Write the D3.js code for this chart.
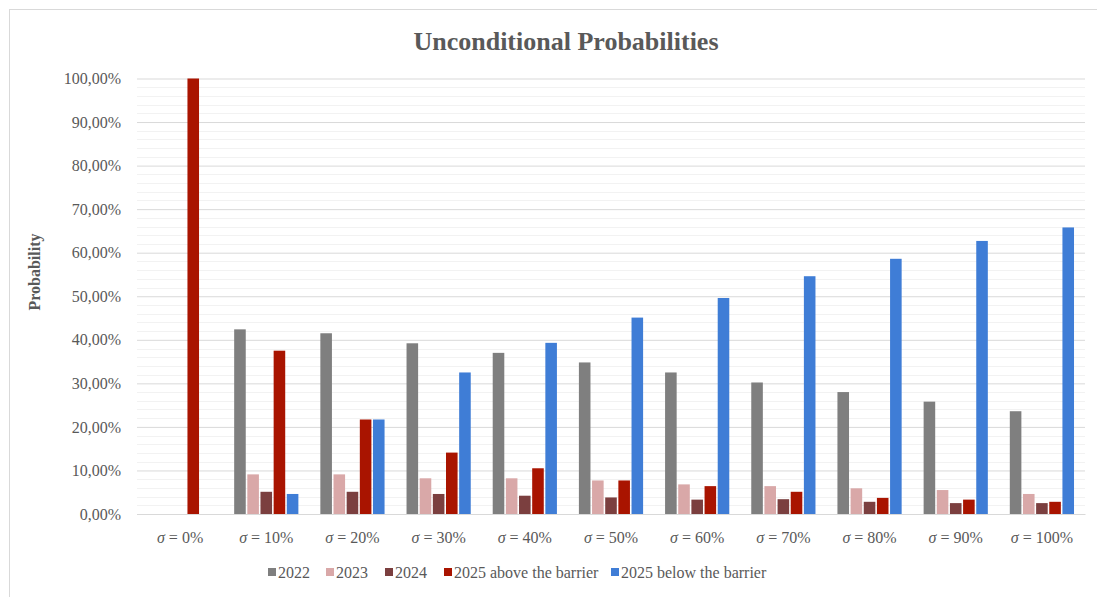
<!DOCTYPE html>
<html lang="en">
<head>
    <meta charset="UTF-8">
    <title>Unconditional Probabilities</title>
    <style>
        body{ margin:0; background:#fff; }
    </style>
    <script src="https://cdn.jsdelivr.net/npm/d3@7"></script>
</head>
<body>
<div id="chart"></div>
<script>
    // categories and series
    var categories = ["0%","10%","20%","30%","40%","50%","60%","70%","80%","90%","100%"];
    var seriesNames = ["2022","2023","2024","2025 above the barrier","2025 below the barrier"];
    var colors = ["#7f7f7f","#d9a8a8","#7b3f3f","#a91400","#3f7dd6"];

    var s2022  = [0, 42.4, 41.5, 39.2, 37.0, 34.8, 32.5, 30.2, 28.0, 25.8, 23.6];
    var s2023  = [0, 9.1, 9.1, 8.2, 8.2, 7.7, 6.8, 6.4, 5.9, 5.5, 4.6];
    var s2024  = [0, 5.1, 5.1, 4.6, 4.2, 3.8, 3.3, 3.4, 2.8, 2.5, 2.5];
    var sAbove = [100, 37.5, 21.7, 14.1, 10.5, 7.7, 6.4, 5.1, 3.7, 3.3, 2.8];
    var sBelow = [0, 4.6, 21.7, 32.5, 39.3, 45.1, 49.6, 54.6, 58.6, 62.7, 65.8];
    var series = [s2022, s2023, s2024, sAbove, sBelow];

    var yTicks = [0,10,20,30,40,50,60,70,80,90,100];

    var FONT = "'Liberation Serif','Times New Roman','DejaVu Serif',Times,serif";
    var TEXT = "#595959";

    var width = 1097, height = 597;
    var plot = {left:137, right:1085, top:78.5, bottom:514};

    var svg = d3.select("#chart").append("svg")
        .attr("width",width)
        .attr("height",height)
        .style("font-family",FONT);

    // chart frame
    svg.append("rect")
        .attr("x",9.5).attr("y",9.5)
        .attr("width",1090).attr("height",590)
        .attr("fill","none")
        .attr("stroke","#d9d9d9");

    var x0 = d3.scaleBand()
        .domain(categories)
        .range([plot.left, plot.right]);
    var x1 = d3.scaleBand()
        .domain(d3.range(series.length))
        .range([0, x0.bandwidth()*0.745])
        .paddingInner(0.12);
    var groupOffset = (x0.bandwidth() - x1.range()[1]) / 2;

    var y = d3.scaleLinear()
        .domain([0,100])
        .range([plot.bottom, plot.top]);

    // minor gridlines (every 2%)
    svg.append("g")
        .selectAll("line")
        .data(d3.range(2,100,2).filter(function(d){ return d % 10 !== 0; }))
        .enter().append("line")
        .attr("x1",plot.left).attr("x2",plot.right)
        .attr("y1",function(d){ return Math.round(y(d))+0.5; })
        .attr("y2",function(d){ return Math.round(y(d))+0.5; })
        .attr("stroke","#f2f2f2");

    // y axis with major gridlines
    var yAxis = d3.axisLeft(y)
        .tickValues(yTicks)
        .tickSize(-(plot.right-plot.left))
        .tickPadding(16)
        .tickFormat(function(d){ return d.toFixed(2).replace(".",",") + "%"; });
    var gy = svg.append("g")
        .attr("transform","translate(" + plot.left + ",0)")
        .call(yAxis)
        .attr("font-family",FONT)
        .attr("font-size",16);
    gy.select(".domain").remove();
    gy.selectAll(".tick line").attr("stroke","#d9d9d9");
    gy.selectAll(".tick text").attr("fill",TEXT).style("font-family",FONT);

    // bars
    var groups = svg.append("g")
        .selectAll("g")
        .data(categories)
        .enter().append("g")
        .attr("transform",function(d){ return "translate(" + (x0(d)+groupOffset) + ",0)"; });

    groups.selectAll("rect")
        .data(function(d,i){ return series.map(function(s,k){ return {k:k, v:s[i]}; }); })
        .enter().append("rect")
        .attr("x",function(d){ return x1(d.k); })
        .attr("y",function(d){ return y(d.v); })
        .attr("width",x1.bandwidth())
        .attr("height",function(d){ return y(0) - y(d.v); })
        .attr("fill",function(d){ return colors[d.k]; });

    // x axis
    var xAxis = d3.axisBottom(x0).tickSize(0).tickFormat(function(){ return ""; });
    var gx = svg.append("g")
        .attr("transform","translate(0," + plot.bottom + ")")
        .call(xAxis)
        .attr("font-family",FONT)
        .attr("font-size",16);
    gx.select(".domain").attr("stroke","#d9d9d9");
    gx.selectAll(".tick text").remove();
    gx.selectAll(".tick").append("text")
        .attr("y",29)
        .attr("text-anchor","middle")
        .attr("fill",TEXT)
        .style("font-family",FONT)
        .style("font-size","16px")
        .each(function(d){
            var t = d3.select(this);
            t.append("tspan").attr("font-style","italic").text("σ");
            t.append("tspan").text(" = " + d);
        });

    // title
    svg.append("text")
        .attr("x",566)
        .attr("y",50)
        .attr("text-anchor","middle")
        .attr("fill",TEXT)
        .style("font-family",FONT)
        .style("font-size","26px")
        .style("font-weight","bold")
        .text("Unconditional Probabilities");

    // y axis title
    svg.append("text")
        .attr("transform","translate(40,272) rotate(-90)")
        .attr("text-anchor","middle")
        .attr("fill",TEXT)
        .style("font-family",FONT)
        .style("font-size","16px")
        .style("font-weight","bold")
        .text("Probability");

    // legend
    var legendX = [268, 326, 385, 444, 611];
    var legend = svg.append("g")
        .selectAll("g")
        .data(seriesNames)
        .enter().append("g")
        .attr("transform",function(d,i){ return "translate(" + legendX[i] + ",573)"; });
    legend.append("rect")
        .attr("x",0).attr("y",-5)
        .attr("width",8).attr("height",8)
        .attr("fill",function(d,i){ return colors[i]; });
    legend.append("text")
        .attr("x",10)
        .attr("y",5)
        .attr("fill",TEXT)
        .style("font-family",FONT)
        .style("font-size","16px")
        .text(function(d){ return d; });
</script>
</body>
</html>
